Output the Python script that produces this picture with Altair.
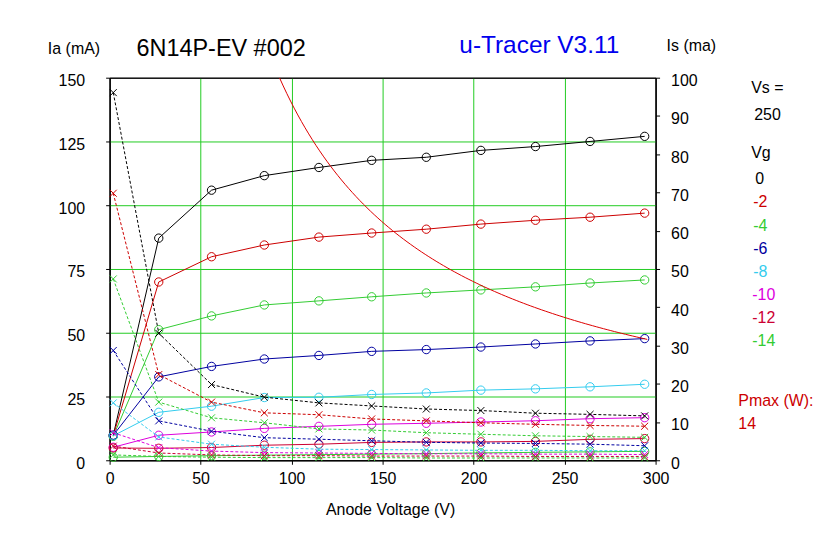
import altair as alt
import pandas as pd

FONT = "Liberation Sans"
GRID = "#22CC22"

# Anode voltage sweep points (V)
volts = [2, 27, 56, 85, 115, 144, 174, 204, 234, 264, 294]
vg_labels = ["0", "-2", "-4", "-6", "-8", "-10", "-12", "-14"]
vg_colors = ["#000000", "#CC0000", "#33CC33", "#0000A0", "#33CCEE", "#DD00DD", "#CC0033", "#33CC33"]

# Anode current Ia (mA), left axis
ia_0 = [9.8, 87.1, 105.9, 111.6, 114.8, 117.6, 118.8, 121.5, 123.0, 125.0, 127.0]
ia_m2 = [9.6, 69.9, 79.8, 84.4, 87.5, 89.1, 90.6, 92.6, 94.1, 95.3, 96.9]
ia_m4 = [9.4, 51.2, 56.6, 60.9, 62.5, 64.1, 65.6, 66.8, 68.0, 69.5, 70.7]
ia_m6 = [9.8, 32.7, 36.8, 39.7, 41.1, 42.7, 43.4, 44.4, 45.6, 46.8, 47.7]
ia_m8 = [9.6, 18.8, 21.2, 24.6, 24.7, 25.8, 26.4, 27.5, 28.0, 28.8, 29.8]
ia_m10 = [5.1, 9.8, 11.1, 12.5, 13.3, 14.1, 14.5, 15.0, 15.5, 16.3, 16.7]
ia_m12 = [4.8, 4.7, 5.0, 5.9, 6.3, 7.0, 7.2, 7.2, 7.4, 8.2, 8.5]
ia_m14 = [1.2, 1.5, 1.8, 2.0, 2.2, 2.4, 2.6, 2.9, 3.1, 3.3, 3.5]

# Screen current Is (mA), right axis
is_0 = [96.1, 33.2, 19.8, 16.5, 15.0, 14.2, 13.4, 13.0, 12.3, 12.0, 11.6]
is_m2 = [69.8, 22.4, 15.2, 12.4, 11.9, 10.8, 10.3, 9.8, 9.4, 9.1, 8.9]
is_m4 = [47.4, 15.2, 11.1, 9.8, 8.2, 7.9, 7.2, 6.8, 6.4, 6.2, 6.0]
is_m6 = [28.7, 10.3, 7.6, 5.9, 5.5, 5.1, 4.7, 4.5, 4.4, 4.2, 3.8]
is_m8 = [15.0, 6.1, 4.2, 3.4, 2.9, 2.8, 2.7, 2.6, 2.6, 2.5, 2.5]
is_m10 = [7.2, 3.3, 2.4, 2.0, 1.9, 1.8, 1.7, 1.7, 1.6, 1.6, 1.5]
is_m12 = [3.7, 1.9, 1.4, 1.2, 1.2, 1.1, 1.1, 1.1, 1.0, 1.0, 1.0]
is_m14 = [1.4, 1.0, 0.8, 0.7, 0.7, 0.7, 0.6, 0.6, 0.6, 0.6, 0.6]

ia_all = [ia_0, ia_m2, ia_m4, ia_m6, ia_m8, ia_m10, ia_m12, ia_m14]
is_all = [is_0, is_m2, is_m4, is_m6, is_m8, is_m10, is_m12, is_m14]

# Max anode dissipation (W)
pmax_w = 14
pmax_volts = [93.4 + 2.0 * i for i in range(102)]

rows = []
for lab, ia, isc in zip(vg_labels, ia_all, is_all):
    for v, a, s in zip(volts, ia, isc):
        rows.append({"V": v, "Ia": a, "Is": s, "Vg": lab})
df = pd.DataFrame(rows)
pdf = pd.DataFrame({"V": pmax_volts, "Ia": [pmax_w * 1000.0 / v for v in pmax_volts]})

xgrid_col = alt.condition("datum.value == 0 || datum.value == 300", alt.value("#000000"), alt.value(GRID))
ygrid_col = alt.condition("datum.value == 0 || datum.value == 150", alt.value("#000000"), alt.value(GRID))

xenc = alt.X("V:Q", scale=alt.Scale(domain=[0, 300], nice=False),
             axis=alt.Axis(values=list(range(0, 301, 50)), grid=True, gridColor=xgrid_col,
                           title=None, tickSize=4, labelPadding=6, labelFontSize=16,
                           labelFlush=False))
yleft = alt.Y("Ia:Q", scale=alt.Scale(domain=[0, 150], nice=False),
              axis=alt.Axis(values=list(range(0, 151, 25)), grid=True, gridColor=ygrid_col,
                            title=None, tickSize=4, labelPadding=21, labelOffset=3,
                            labelFontSize=16, orient="left", labelFlush=False))
yright = alt.Y("Is:Q", scale=alt.Scale(domain=[0, 100], nice=False),
               axis=alt.Axis(values=list(range(0, 101, 10)), grid=False,
                             title=None, tickSize=4, labelPadding=11, labelOffset=3,
                             labelFontSize=16, orient="right", labelFlush=False))
color = alt.Color("Vg:N", scale=alt.Scale(domain=vg_labels, range=vg_colors), legend=None)

base = alt.Chart(df)
ia_line = base.mark_line(strokeWidth=1).encode(x=xenc, y=yleft, color=color)
ia_pts = base.mark_point(shape="circle", filled=False, size=70, strokeWidth=1, opacity=1).encode(
    x=xenc, y=yleft, color=color)
pmax_line = alt.Chart(pdf).mark_line(strokeWidth=1, color="#DD0000").encode(x=xenc, y=yleft)
left = alt.layer(ia_line, ia_pts, pmax_line)

is_line = base.mark_line(strokeWidth=1, strokeDash=[3, 2]).encode(x=xenc, y=yright, color=color)
is_pts = base.mark_point(shape="M-1,-1L1,1M-1,1L1,-1", filled=False, size=49, strokeWidth=1,
                         opacity=1).encode(x=xenc, y=yright, color=color)
right = alt.layer(is_line, is_pts)


def txt(s, x, y, col="#000000", size=16, align="left"):
    return alt.Chart(alt.Data(values=[{}])).mark_text(
        align=align, baseline="middle", font=FONT, fontSize=size, color=col
    ).encode(x=alt.value(x), y=alt.value(y), text=alt.value(s))


texts = [
    txt("Ia (mA)", -62, -29),
    txt("6N14P-EV #002", 27, -29, size=23.5),
    txt("u-Tracer V3.11", 351, -32, col="#0000EE", size=24.5),
    txt("Is (ma)", 559, -32),
    txt("Anode Voltage (V)", 282, 434, align="center"),
    txt("Vs =", 644, 10),
    txt("250", 647, 37),
    txt("Vg", 644, 76),
    txt("Pmax (W):", 631, 325, col="#CC0000"),
    txt("14", 631, 348, col="#CC0000"),
]
for i, (lab, col) in enumerate(zip(vg_labels, vg_colors)):
    xx = 648 if lab == "0" else (646 if len(lab) == 2 else 645)
    texts.append(txt(lab, xx, 102 + 23.2 * i, col=col))

chart = alt.layer(left, right, *texts).resolve_scale(y="independent").properties(
    width=548, height=384,
    padding={"left": 102, "top": 69, "right": 160, "bottom": 60},
    autosize=alt.AutoSizeParams(type="none"),
    background="white",
).configure_view(stroke="#000000", strokeWidth=1).configure_axis(
    labelFont=FONT, labelColor="#000000", domainColor="#000000", tickColor="#000000",
    domainWidth=1, tickWidth=1, gridWidth=1, gridOpacity=1,
)

chart.save("out.html", embed_options={"renderer": "svg", "actions": False})
